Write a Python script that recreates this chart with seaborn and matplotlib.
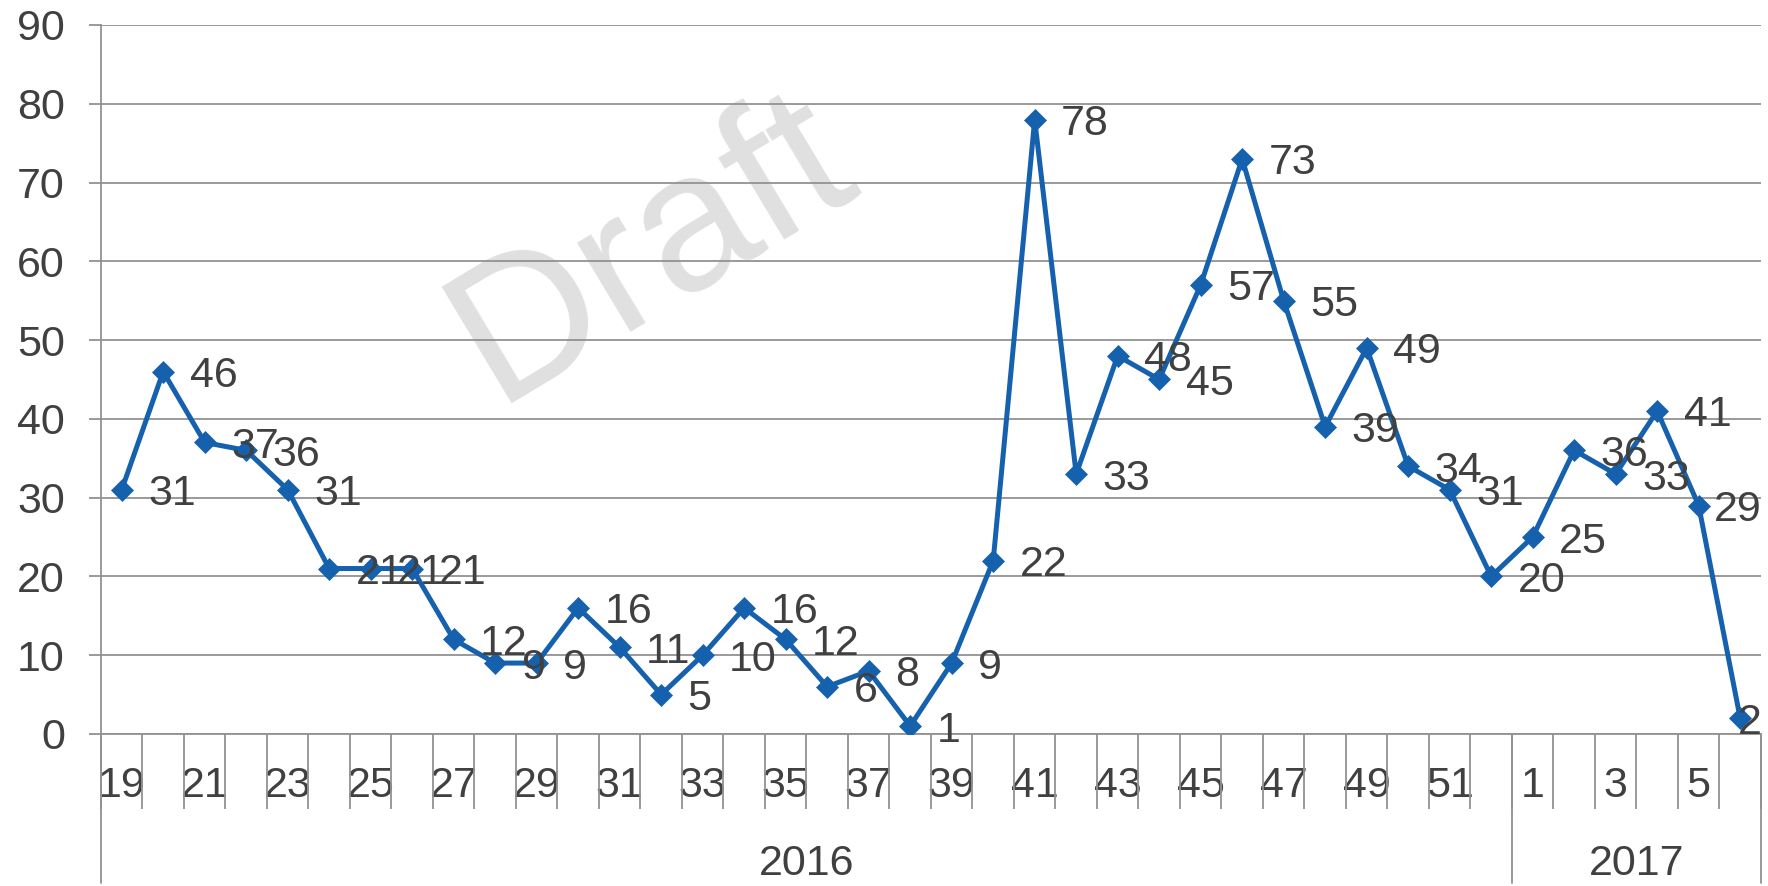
import numpy as np
import pandas as pd
import matplotlib
matplotlib.use("Agg")
import matplotlib.pyplot as plt
import matplotlib.transforms as mtransforms
import seaborn as sns

# Weekly counts, week 19 of 2016 through week 6 of 2017
weeks = list(range(19, 53)) + list(range(1, 7))
years = ["2016"] * 34 + ["2017"] * 6
counts = [31, 46, 37, 36, 31, 21, 21, 21, 12, 9, 9, 16, 11, 5, 10, 16, 12, 6, 8, 1,
          9, 22, 78, 33, 48, 45, 57, 73, 55, 39, 49, 34, 31, 20,
          25, 36, 33, 41, 29, 2]

BLUE = "#1661AE"
GRID = "#929292"
TEXT = "#404040"
FS = 31

sns.set_theme(style="white")
plt.rcParams["font.family"] = ["Liberation Sans", "DejaVu Sans"]

df = pd.DataFrame({"pos": np.arange(len(counts)), "week": weeks,
                   "year": years, "count": counts})

fig = plt.figure(figsize=(17.68, 8.86), dpi=100)
ax = fig.add_axes([0.0571, 0.1716, 0.9389, 0.8002])

sns.lineplot(data=df, x="pos", y="count", marker="D", markersize=11,
             color=BLUE, linewidth=3.6, markeredgecolor=BLUE,
             markeredgewidth=0.5, ax=ax, zorder=3)

ax.set_xlim(-0.5, len(counts) - 0.5)
ax.set_ylim(0, 90)
ax.set_yticks(np.arange(0, 91, 10))
ax.set_xlabel("")
ax.set_ylabel("")

# gridlines and axes
ax.set_axisbelow(True)
ax.yaxis.grid(True, color=GRID, linewidth=1.3)
for side in ["top", "right"]:
    ax.spines[side].set_visible(False)
for side in ["left", "bottom"]:
    ax.spines[side].set_color(GRID)
    ax.spines[side].set_linewidth(1.3)

# week labels on every other category, separators between categories
ax.set_xticks(df["pos"][::2])
ax.set_xticklabels(df["week"][::2])
ax.set_xticks(np.arange(-0.5, len(counts), 1), minor=True)
ax.tick_params(which="both", bottom=True, left=True)
ax.tick_params(axis="x", which="major", length=0, pad=23, labelsize=FS,
               labelcolor=TEXT)
ax.tick_params(axis="x", which="minor", length=54, width=1.3, color=GRID,
               direction="out")
ax.tick_params(axis="y", length=9, width=1.3, color=GRID, pad=17,
               labelsize=FS, labelcolor=TEXT, direction="out")

# year groups
trans = mtransforms.blended_transform_factory(ax.transData, ax.transAxes)
bounds = [-0.5]
for yr, grp in df.groupby("year"):
    bounds.append(grp["pos"].max() + 0.5)
    ax.text(grp["pos"].mean(), -0.183, yr, transform=trans, ha="center",
            va="center", fontsize=FS, color=TEXT)
for b in bounds:
    ax.plot([b, b], [0, -0.21], transform=trans, color=GRID, linewidth=1.3,
            clip_on=False)

# data labels to the right of each point
labels = []
for p, v in zip(df["pos"], df["count"]):
    labels.append(ax.annotate(str(v), (p, v), xytext=(19, 0),
                              textcoords="offset points", ha="left",
                              va="center_baseline", fontsize=FS, color=TEXT,
                              zorder=4))

# pull labels back inside the chart when they run past the right edge
fig.canvas.draw()
limit = fig.bbox.width - 6
for t in labels:
    over = t.get_window_extent().x1 - limit
    if over > 0:
        dx, dy = t.xyann
        t.xyann = (dx - over * 72 / fig.dpi, dy)

# watermark
ax.text(0.369, 0.718, "Draft", transform=fig.transFigure, rotation=31,
        fontsize=142, color="#E0E0E0", ha="center", va="center", zorder=0.1)

fig.savefig("out.png", dpi=100)
